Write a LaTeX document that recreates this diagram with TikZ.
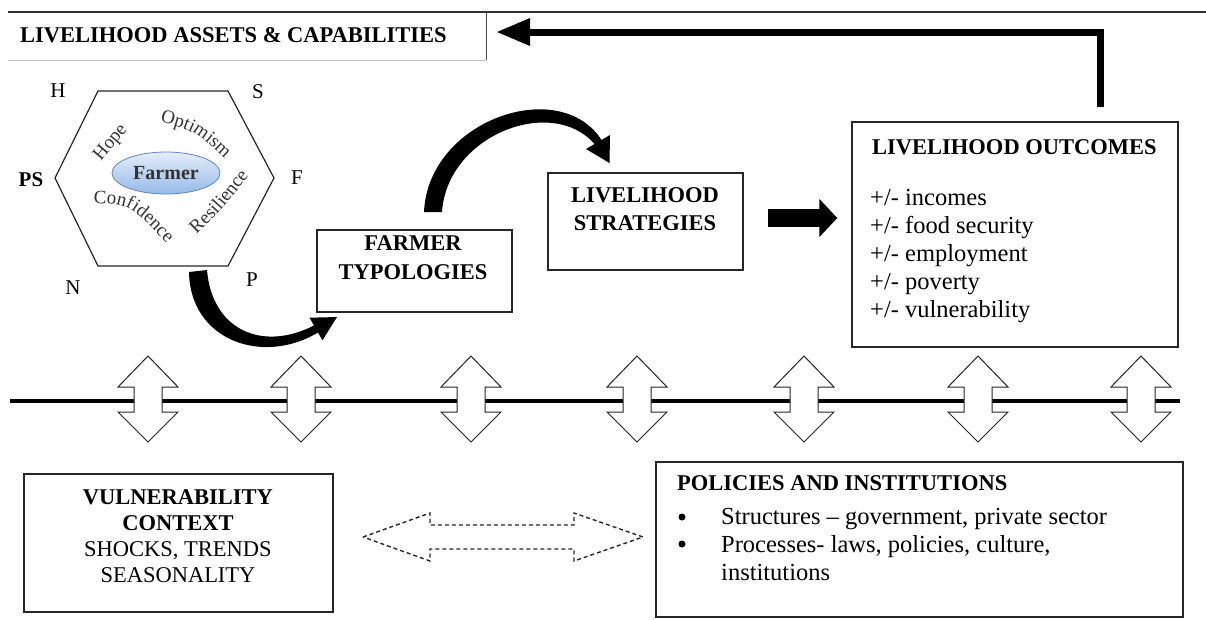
\documentclass[tikz,border=0pt]{standalone}
\usepackage{fontspec}
\setmainfont{Liberation Serif}
\usetikzlibrary{arrows.meta,shapes.geometric,calc,decorations.text}
\begin{document}
\begin{tikzpicture}[x=1pt,y=-1pt,
  box/.style={draw=black!85, line width=1.3pt, inner sep=0pt, fill=white},
  bf/.style={font=\fontsize{22.5}{28.5}\selectfont\bfseries, inner sep=0pt},
  rm/.style={font=\fontsize{24.5}{28}\selectfont, inner sep=0pt},
  hexw/.style={font=\fontsize{19}{22}\selectfont, text=black!80, inner sep=0pt},
  curvetext/.style={decorate, decoration={text along path, text align=center,
      text={|\fontsize{19}{22}\selectfont\color{black!80}|#1}}},
  lbl/.style={font=\fontsize{21}{24}\selectfont, inner sep=0pt},
  dbl/.style={draw=black!85, line width=1pt, fill=white},
  blk/.style={fill=black, draw=none},
  bullet/.style={circle, fill=black, inner sep=0pt, minimum size=7pt}]
\useasboundingbox (0,0) rectangle (1206,619);

% top rule
\draw[line width=2.5pt, black!80] (8,12) -- (1206,12);

% boxes
\node[minimum width=478pt, minimum height=48pt, inner sep=0pt] (la) at (247,36) {};
\draw[black!70, line width=1pt] (la.north east) -- (la.south east);
\draw[black!25, line width=1pt] (la.south east) -- (la.south west);
\node[bf, anchor=west] (latxt) at (20,35) {LIVELIHOOD ASSETS \& CAPABILITIES};

\node[box, minimum width=195pt, minimum height=82pt] (ft) at (414.5,271) {};
\node[bf, align=center] (fttxt) at (413,257.5) {FARMER\\TYPOLOGIES};

\node[box, minimum width=195pt, minimum height=97pt] (ls) at (645.5,221.5) {};
\node[bf, align=center] (lstxt) at (645,209) {LIVELIHOOD\\STRATEGIES};

\node[box, minimum width=326pt, minimum height=225pt] (lo) at (1015,234.5) {};
\node[bf, anchor=west] (lotitle) at (872,147) {LIVELIHOOD OUTCOMES};
\node[rm, anchor=west, align=left] (lolist) at (870,256)
  {+/- incomes\\+/- food security\\+/- employment\\+/- poverty\\+/- vulnerability};

% hexagon
\draw[black!85, line width=1.2pt] (98,91) -- (228,91) -- (274,178) -- (228,266) -- (98,266) -- (55,178) -- cycle;
\node[ellipse, minimum width=108pt, minimum height=42pt, inner sep=0pt,
  top color={rgb,255:red,228;green,237;blue,250},
  bottom color={rgb,255:red,150;green,186;blue,232},
  draw={rgb,255:red,95;green,135;blue,195}, line width=0.8pt,
  font=\fontsize{20}{22}\selectfont\bfseries, text=black!80] (farmer) at (166,173) {Farmer};
\node[hexw, rotate=50] (hope) at (111,143) {Hope};
\path[curvetext=Optimism] (157,121) .. controls (195,131) .. (227,161);
\path[curvetext=Confidence] (89,203) .. controls (130,204) .. (170,247);
\path[curvetext=Resilience] (196,235) .. controls (222,210) .. (249,175);

\node[lbl] (H) at (58,91) {H};
\node[lbl] (S) at (258,92) {S};
\node[lbl, font=\fontsize{21}{24}\selectfont\bfseries] (PS) at (31,180) {PS};
\node[lbl] (F) at (297,178) {F};
\node[lbl] (P) at (252,280) {P};
\node[lbl] (N) at (73,288) {N};

% curved arrow hexagon -> farmer typologies
\fill[blk] (189,272) .. controls (190,340) and (262,366) .. (318,332.5)
  -- (322.5,340.3) -- (337,317) -- (309.5,317.7) -- (314,325.5)
  .. controls (262,352) and (212,330) .. (207,270) -- cycle;

% curved arrow farmer typologies -> livelihood strategies
\fill[blk] (424,212) .. controls (428,120) and (560,75) .. (601.5,140)
  -- (610,135) -- (609.5,163) -- (586,149) -- (594.5,144)
  .. controls (552,95) and (447,135) .. (442,212) -- cycle;

% block arrow strategies -> outcomes
\draw[line width=18pt, -{Triangle[length=18pt,width=37pt]}]
  ($(ls.east)+(24,-3.5)$) -- ($(lo.west)+(-14,-16.5)$);

% feedback arrow outcomes -> assets
\coordinate (corner) at (1100,32);
\draw[line width=7pt, -{Triangle[length=34pt,width=26pt]}]
  ($(lo.north)+(85,-14)$) -- (corner) -- ($(la.east)+(10,-4)$);

% horizontal line and double arrows
\draw[line width=4pt] (10,401) -- (1180,401);
\foreach \x in {148,301,471,637,804,978,1141}
  \draw[dbl] (\x,356) -- (\x+30,387) -- (\x+14,387) -- (\x+14,412) -- (\x+30,412)
    -- (\x,442) -- (\x-30,412) -- (\x-14,412) -- (\x-14,387) -- (\x-30,387) -- cycle;

% bottom boxes
\node[box, minimum width=309pt, minimum height=138pt] (vc) at (178.5,543) {};
\node[align=center, inner sep=0pt, font=\fontsize{22.5}{26}\selectfont] (vctxt) at (178,536.5)
  {\textbf{VULNERABILITY}\\\textbf{CONTEXT}\\SHOCKS, TRENDS\\SEASONALITY};

\node[box, minimum width=527pt, minimum height=155pt] (pi) at (919.5,539.5) {};
\node[bf, anchor=west] (pititle) at (677,483) {POLICIES AND INSTITUTIONS};
\node[bullet] (b1) at (682,517) {};
\node[bullet] (b2) at (682,544) {};
\node[rm, anchor=west, align=left] (pilist) at (721,544)
  {Structures – government, private sector\\Processes- laws, policies, culture,\\institutions};

% dashed double arrow between vulnerability context and policies
\draw[black!85, line width=1.4pt, dash pattern=on 4pt off 3pt]
  (363,537) -- (430,513) -- (430,525) -- (574,525) -- (574,513) -- (643,537)
  -- (574,561) -- (574,549) -- (430,549) -- (430,561) -- cycle;
\end{tikzpicture}
\end{document}
